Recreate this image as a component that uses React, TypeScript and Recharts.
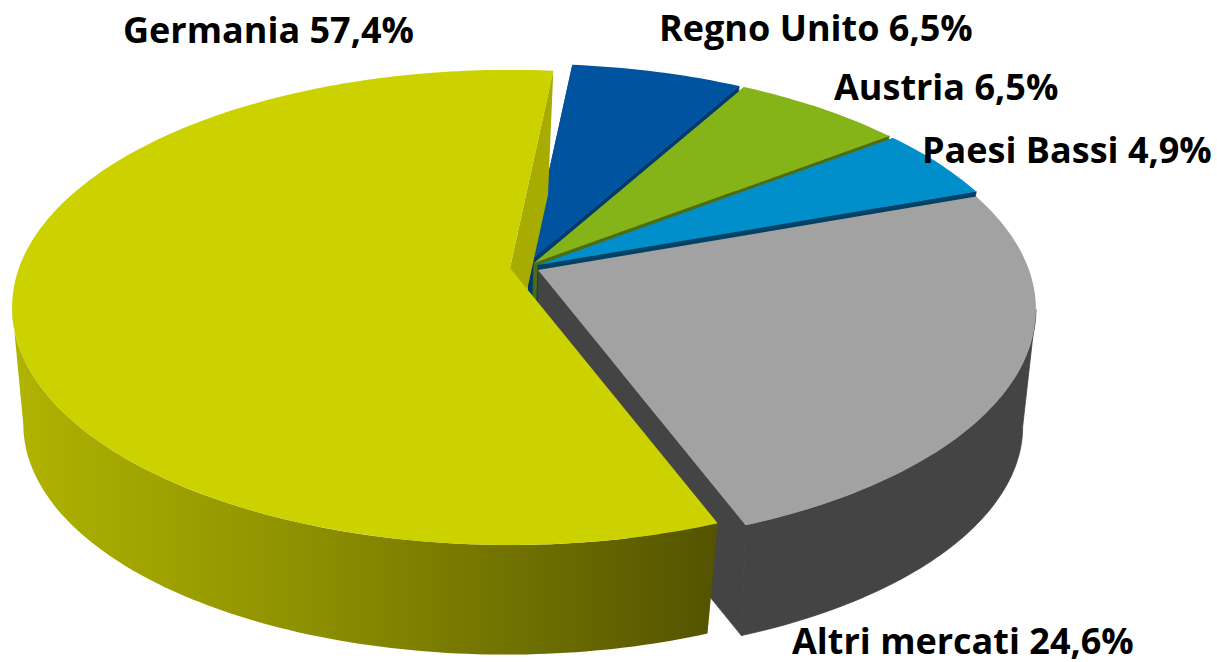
import { PieChart, Pie } from "recharts";

const markets = ["Regno Unito", "Austria", "Paesi Bassi", "Altri mercati", "Germania"];
const shares = [6.5, 6.5, 4.9, 24.6, 57.4];
const shareLabels = ["6,5%", "6,5%", "4,9%", "24,6%", "57,4%"];

const topColors = ["#00549f", "#84b418", "#008fcb", "#a2a2a2", "#ccd200"];
const wallColors = ["#003a6e", "#4f6c0e", "#004266", "#444444", "#a8ab00"];
const sideFills = ["#003a6e", "#4f6c0e", "#004266", "#444444", "url(#germaniaSide)"];

// where each slice's tip lands on the top and bottom face once it is pulled out
const tipX = [529, 534, 538, 538, 510];
const tipY = [262, 263, 265, 270, 268];
const lowTipX = [525, 530, 534, 540, 506];
const lowTipY = [380, 381, 383, 388, 386];

const labelX = [659, 834, 922, 792, 123];
const labelY = [41, 100, 163, 654, 43];

const rimX = 491;
const rimY = 231;
const lowRimX = 476;
const lowRimY = 224;
const tilt = 0.166;

const tableData = markets.map((name, i) => ({ name, value: shares[i] }));

// theta is clockwise from 12 o'clock, on the tilted disc
function rimPoint(theta: number, i: number, low: boolean) {
  const rad = (theta * Math.PI) / 180;
  const x = Math.sin(rad);
  const y = -Math.cos(rad);
  const w = 1 - tilt * y;
  return low
    ? [lowTipX[i] + (lowRimX * x) / w, lowTipY[i] + (lowRimY * y) / w]
    : [tipX[i] + (rimX * x) / w, tipY[i] + (rimY * y) / w];
}

function arc(from: number, to: number, i: number, low: boolean) {
  const pts: number[][] = [];
  const steps = Math.max(2, Math.ceil(Math.abs(to - from)));
  for (let s = 0; s <= steps; s++) {
    pts.push(rimPoint(from + ((to - from) * s) / steps, i, low));
  }
  return pts;
}

const toPath = (pts: number[][]) =>
  "M" + pts.map((p) => `${p[0].toFixed(1)},${p[1].toFixed(1)}`).join("L") + "Z";

const toThetas = (props: any) => [90 - props.startAngle, 90 - props.endAngle];

function BackWall(props: any) {
  const i = markets.indexOf(props.name);
  const [from] = toThetas(props);
  const pts = [
    [tipX[i], tipY[i]],
    rimPoint(from, i, false),
    rimPoint(from, i, true),
    [lowTipX[i], lowTipY[i]],
  ];
  return <path d={toPath(pts)} fill={wallColors[i]} />;
}

function Slice3D(props: any) {
  const i = markets.indexOf(props.name);
  const [from, to] = toThetas(props);

  // outer side only shows between the two silhouette points of the disc
  const edge = (Math.acos(-tilt) * 180) / Math.PI;
  const sideFrom = Math.max(from, edge);
  const sideTo = Math.min(to, 360 - edge);

  const endWall = [
    [tipX[i], tipY[i]],
    rimPoint(to, i, false),
    rimPoint(to, i, true),
    [lowTipX[i], lowTipY[i]],
  ];
  const top = [[tipX[i], tipY[i]], ...arc(from, to, i, false)];
  // small stroke closes the seam between side and wall on the flat coloured slices
  const sideStroke = i === 4 ? "none" : sideFills[i];

  return (
    <g>
      {sideTo > sideFrom && (
        <path
          d={toPath([...arc(sideFrom, sideTo, i, false), ...arc(sideTo, sideFrom, i, true)])}
          fill={sideFills[i]}
          stroke={sideStroke}
          strokeWidth={0.8}
        />
      )}
      <path d={toPath(endWall)} fill={wallColors[i]} stroke={i === 4 ? "none" : wallColors[i]} strokeWidth={0.8} />
      <path d={toPath(top)} fill={topColors[i]} />
    </g>
  );
}

function SliceLabel(props: any) {
  const i = markets.indexOf(props.name);
  return (
    <text
      x={labelX[i]}
      y={labelY[i]}
      fontFamily="'Open Sans', sans-serif"
      fontWeight={700}
      fontSize={36}
      fill="#000000"
    >
      {`${markets[i]} ${shareLabels[i]}`}
    </text>
  );
}

export default function App() {
  return (
    <div style={{ position: "absolute", left: 0, top: 0, width: 1217, height: 662, overflow: "hidden", background: "#fff" }}>
      <PieChart width={1217} height={662} margin={{ top: 0, right: 0, bottom: 0, left: 0 }}>
        <defs>
          <linearGradient id="germaniaSide" gradientUnits="userSpaceOnUse" x1={12} y1={0} x2={713} y2={0}>
            <stop offset="0%" stopColor="#b1b400" />
            <stop offset="41%" stopColor="#8e9100" />
            <stop offset="100%" stopColor="#545400" />
          </linearGradient>
        </defs>
        <Pie
          data={tableData}
          dataKey="value"
          nameKey="name"
          cx={527}
          cy={293}
          outerRadius={230}
          startAngle={84.1}
          endAngle={-275.9}
          shape={BackWall}
          stroke="none"
          isAnimationActive={false}
        />
        <Pie
          data={tableData}
          dataKey="value"
          nameKey="name"
          cx={527}
          cy={293}
          outerRadius={230}
          startAngle={84.1}
          endAngle={-275.9}
          shape={Slice3D}
          stroke="none"
          label={SliceLabel}
          labelLine={false}
          isAnimationActive={false}
        />
      </PieChart>
    </div>
  );
}
